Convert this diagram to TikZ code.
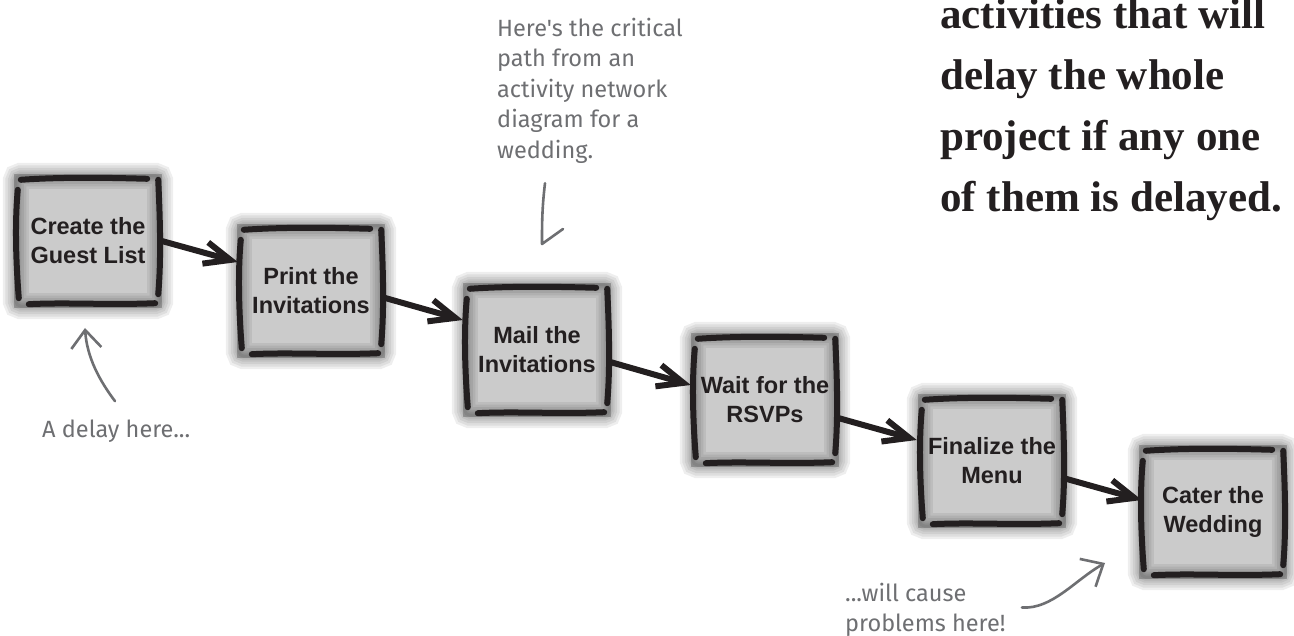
\documentclass[tikz,border=0pt]{standalone}
\usepackage{fontspec}
\setmainfont{Liberation Sans}
\newfontfamily\notefont{Fira Sans}
\newfontfamily\headfont{Liberation Serif}
\usetikzlibrary{arrows.meta,calc}
\definecolor{ink}{HTML}{231F20}
\definecolor{pencil}{HTML}{6E6F72}
\definecolor{boxfill}{HTML}{CBCBCB}
\tikzset{
  task/.style={minimum width=148pt, minimum height=134pt, inner sep=0pt, align=center,
    fill=boxfill, text=ink, font=\bfseries\fontsize{23.5}{29}\selectfont},
  haze/.style={draw=black, draw opacity=0.065, rounded corners=5pt},
  rim/.style={draw=ink, line width=6pt, line cap=round},
  flow/.style={draw=ink, line width=6pt, -{Straight Barb[length=26pt,width=22pt]}},
  note/.style={text=pencil, font=\notefont\fontsize{23.5}{30.5}\selectfont, align=left,
    inner sep=0pt, anchor=north west},
  pencilline/.style={draw=pencil, line width=2.6pt, line cap=round, line join=round},
  headline/.style={text=ink, font=\headfont\bfseries\fontsize{43}{61}\selectfont, align=left,
    inner sep=0pt, anchor=north west},
}
\begin{document}
\begin{tikzpicture}[x=1pt,y=-1pt]
\fill[white] (0,0) rectangle (1294,636);
\useasboundingbox (0,0) rectangle (1294,636);

% activity boxes along the critical path
\node[task] (b1) at (88,241)   {Create the\\Guest List};
\node[task] (b2) at (311,291)  {Print the\\Invitations};
\node[task] (b3) at (537,350)  {Mail the\\Invitations};
\node[task] (b4) at (765,400)  {Wait for the\\RSVPs};
\node[task] (b5) at (992,461)  {Finalize the\\Menu};
\node[task] (b6) at (1213,512) {Cater the\\Wedding};

% smudged edges and hand-drawn rims
\foreach \n in {b1,b2,b3,b4,b5,b6} {
  \foreach \w in {26,21,16,11,7,3}
    \draw[haze, line width=\w pt] ($(\n.north west)+(2,2)$) rectangle ($(\n.south east)+(-2,-2)$);
  \draw[rim] ($(\n.north west)+(7,6)$) .. controls ($(\n.north)+(-25,3)$) and ($(\n.north)+(25,4)$) .. ($(\n.north east)+(-15,5)$);
  \draw[rim] ($(\n.south west)+(15,-4)$) .. controls ($(\n.south)+(-20,-6)$) and ($(\n.south)+(20,-3)$) .. ($(\n.south east)+(-7,-5)$);
  \draw[rim] ($(\n.north west)+(4,16)$) .. controls ($(\n.west)+(1,-20)$) and ($(\n.west)+(2,20)$) .. ($(\n.south west)+(5,-10)$);
  \draw[rim] ($(\n.north east)+(-4,6)$) .. controls ($(\n.east)+(-2,-20)$) and ($(\n.east)+(-1,20)$) .. ($(\n.south east)+(-4,-14)$);
}

% dependencies
\draw[flow] ($(b1.east)+(-4,-1)$) -- ($(b2.west)+(1,-29)$);
\draw[flow] ($(b2.east)+(0,7)$)   -- ($(b3.west)+(0,-30)$);
\draw[flow] ($(b3.east)+(-1,12)$) -- ($(b4.west)+(0,-15)$);
\draw[flow] ($(b4.east)+(-1,18)$) -- ($(b5.west)+(-1,-21)$);
\draw[flow] ($(b5.east)+(-3,17)$) -- ($(b6.west)+(3,-12)$);

% big statement
\node[headline] (claim) at (940,-2) {activities that will\\delay the whole\\project if any one\\of them is delayed.};

% margin notes
\node[note] (crit) at (497,17.5) {Here's the critical\\path from an\\activity network\\diagram for a\\wedding.};
\coordinate (critTip) at (542,244);
\draw[pencilline] ($(crit.south west)+(48,20)$) .. controls +(-3,25) and +(0,-20) .. (critTip) -- ++(21,-15);

\node[note, anchor=base west] (delay) at (42,438) {A delay here...};
\coordinate (delayTip) at (85,328);
\draw[pencilline, -{Straight Barb[length=18pt,width=30pt]}] ($(delay.north west)+(73,-19)$) .. controls +(-15,-20) and +(2,30) .. (delayTip);

\node[note] (cause) at (845,582.5) {...will cause\\problems here!};
\coordinate (causeTip) at (1105,563);
\draw[pencilline, -{Straight Barb[length=18pt,width=32pt]}] ($(cause.north west)+(177,25)$) .. controls +(30,2) and +(-30,17) .. (causeTip);
\end{tikzpicture}
\end{document}
